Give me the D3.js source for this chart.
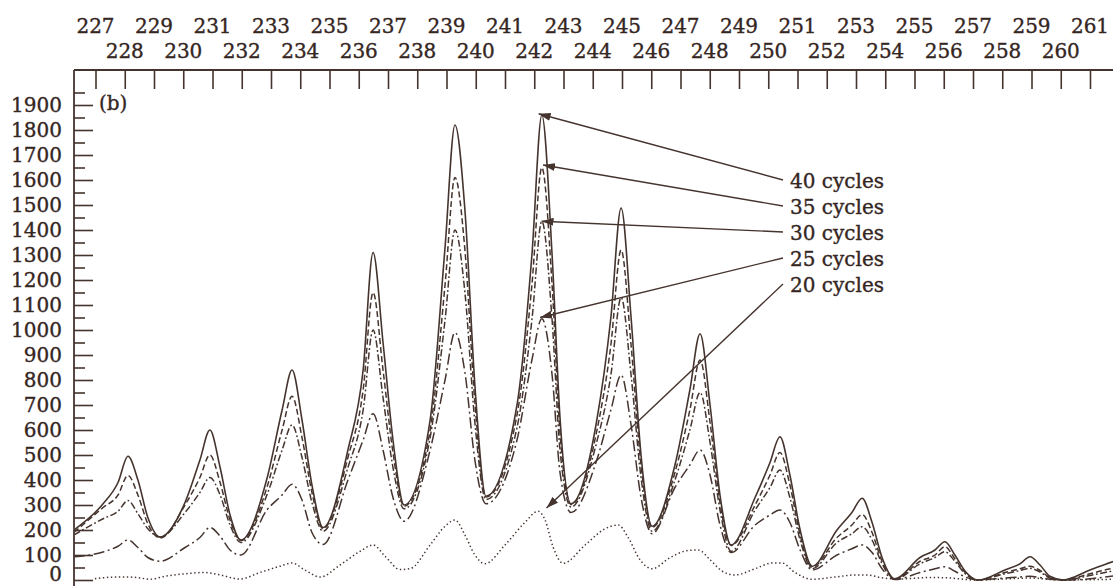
<!DOCTYPE html>
<html>
<head>
<meta charset="utf-8">
<script src="https://cdn.jsdelivr.net/npm/d3@7"></script>
<style>
  html, body { margin: 0; padding: 0; background: #ffffff; }
  svg { display: block; }
  text { font-family: "DejaVu Serif", serif; fill: #35261f; stroke: #35261f; stroke-width: 0.35px; }
</style>
</head>
<body>
<svg id="chart" width="1113" height="586"></svg>
<script>
// m/z knot positions shared by the 40, 35, 30 and 25 cycle traces
const mzKnots = [226.26,
  227.26, 227.77, 228.11, 228.45, 228.79, 229.21,
  230.06, 230.57, 230.91, 231.26, 231.60, 231.97,
  232.86, 233.38, 233.72, 234.06, 234.40, 234.78,
  235.63, 236.15, 236.49, 236.83, 237.17, 237.55,
  238.44, 238.95, 239.29, 239.63, 239.97, 240.35,
  241.41, 241.92, 242.26, 242.61, 242.88, 243.26,
  244.11, 244.62, 244.97, 245.31, 245.65, 246.03,
  246.81, 247.32, 247.67, 248.01, 248.35, 248.73,
  249.55, 250.06, 250.40, 250.74, 251.09, 251.50,
  252.35, 252.86, 253.21, 253.55, 253.89, 254.33,
  255.19, 255.70, 256.04, 256.38, 256.73, 257.17,
  258.09, 258.61, 258.95, 259.29, 259.63, 260.08,
  261.00, 261.51, 261.96];

const cycles40 = [200,
  305, 390, 495, 400, 250, 172,
  310, 480, 600, 450, 260, 160,
  405, 680, 840, 640, 380, 210,
  520, 840, 1310, 950, 560, 300,
  640, 1330, 1820, 1480, 780, 335,
  700, 1300, 1860, 1300, 650, 305,
  620, 1050, 1488, 1050, 500, 215,
  460, 760, 985, 700, 340, 140,
  330, 470, 573, 420, 200, 55,
  200, 270, 327, 230, 90, 5,
  90, 120, 153, 100, 35, 0,
  40, 65, 93, 60, 15, 0,
  40, 62, 80];

const cycles35 = [190,
  290, 340, 418, 340, 225, 168,
  300, 410, 500, 390, 240, 158,
  370, 600, 735, 570, 350, 205,
  490, 760, 1150, 840, 510, 295,
  600, 1180, 1610, 1320, 710, 332,
  660, 1180, 1650, 1180, 590, 302,
  580, 940, 1320, 940, 460, 210,
  430, 680, 880, 630, 310, 138,
  300, 420, 510, 380, 180, 52,
  170, 220, 262, 190, 75, 4,
  75, 100, 133, 85, 30, 0,
  30, 45, 55, 38, 10, 0,
  25, 40, 50];

const cycles30 = [180,
  245, 275, 318, 265, 205, 172,
  270, 350, 410, 340, 220, 150,
  340, 520, 620, 490, 310, 195,
  450, 680, 1000, 730, 450, 285,
  570, 1040, 1400, 1150, 630, 322,
  610, 1040, 1435, 1040, 520, 292,
  540, 820, 1130, 820, 410, 195,
  400, 600, 750, 550, 280, 115,
  280, 370, 440, 330, 160, 45,
  150, 185, 213, 160, 65, 3,
  65, 90, 113, 75, 25, 0,
  25, 38, 47, 32, 8, 0,
  18, 30, 40];

const cycles25 = [93,
  112, 135, 160, 130, 90, 75,
  130, 170, 210, 175, 120, 100,
  280, 340, 383, 320, 190, 142,
  400, 560, 665, 520, 330, 235,
  520, 800, 990, 830, 480, 305,
  560, 880, 1045, 820, 430, 270,
  470, 680, 820, 620, 330, 185,
  370, 460, 520, 420, 220, 110,
  220, 260, 280, 230, 120, 40,
  100, 125, 140, 110, 45, 2,
  30, 45, 53, 35, 12, 0,
  8, 12, 15, 10, 3, 0,
  5, 12, 18];

// the 20 cycle trace is broader and has its own knots
const mzKnots20 = [226.98, 227.50, 228.01, 228.42, 228.86, 229.38, 230.06, 230.74, 231.19, 231.94,
  232.62, 233.30, 233.72, 234.16, 234.68, 235.36, 236.05, 236.49, 236.90, 237.41,
  237.75, 238.44, 238.95, 239.29, 239.63, 239.97, 240.31, 241.00, 241.68, 242.13,
  242.37, 242.65, 242.99, 243.74, 244.42, 244.87, 245.21, 245.62, 246.03, 246.65,
  247.26, 247.61, 248.02, 248.43, 248.86, 249.55, 250.13, 250.47, 250.91, 251.50,
  252.28, 252.97, 253.41, 253.82, 254.50, 255.53, 256.21, 257.07, 258.26, 258.95,
  259.97, 261.79];
const cycles20 = [5, 11, 12, 10, 3, 15, 25, 30, 22, 4,
  30, 55, 68, 40, 12, 60, 115, 140, 95, 42,
  45, 140, 215, 240, 180, 100, 65, 140, 230, 275,
  240, 130, 67, 140, 205, 220, 170, 80, 45, 90,
  118, 120, 80, 35, 20, 45, 68, 68, 30, 3,
  12, 20, 20, 10, 4, 10, 8, 0, 5, 8,
  0, 3];

const seriesLabels = ["40 cycles", "35 cycles", "30 cycles", "25 cycles", "20 cycles"];
const topTickValues = d3.range(227, 262);
const yMajorTicks = d3.range(0, 2000, 100);
const yMinorTicks = d3.range(50, 2000, 100);
// where each label's arrow points (m/z, intensity)
const arrowTipMz = [242.15, 242.30, 242.25, 242.20, 242.42];
const arrowTipValue = [1865, 1660, 1435, 1050, 288];

// ---- layout ----
const W = 1113, H = 586;
const frameLeft = 74, frameTop = 70, frameRight = 1113;
const ink = "#45342e";

const svg = d3.select("#chart");

const x = d3.scaleLinear().domain([227, 261]).range([95.5, 1090]);
const y = d3.scaleLinear().domain([0, 1900]).range([580, 105]);

// frame lines
svg.append("line")
  .attr("x1", frameLeft).attr("x2", frameRight)
  .attr("y1", frameTop).attr("y2", frameTop)
  .attr("stroke", ink).attr("stroke-width", 1.8);
svg.append("line")
  .attr("x1", frameLeft).attr("x2", frameLeft)
  .attr("y1", frameTop).attr("y2", H + 2)
  .attr("stroke", ink).attr("stroke-width", 1.8);

// top axis: inward ticks at every unit, labels staggered on two rows
const topAxis = d3.axisBottom(x).tickValues(topTickValues).tickSize(19).tickSizeOuter(0).tickFormat("");
svg.append("g")
  .attr("transform", `translate(0,${frameTop})`)
  .call(topAxis)
  .call(g => g.select(".domain").remove())
  .call(g => g.selectAll(".tick line").attr("stroke", ink).attr("stroke-width", 1.6));

svg.append("g").selectAll("text")
  .data(topTickValues)
  .join("text")
  .attr("x", d => x(d))
  .attr("y", d => (d % 2 === 1 ? 33 : 58))
  .attr("text-anchor", "middle")
  .attr("font-size", 20)
  .text(d => d);

// left axis: inward major and minor ticks
const leftMajor = d3.axisRight(y).tickValues(yMajorTicks).tickSize(19).tickSizeOuter(0).tickFormat("");
const leftMinor = d3.axisRight(y).tickValues(yMinorTicks).tickSize(11).tickSizeOuter(0).tickFormat("");
[leftMajor, leftMinor].forEach(ax => {
  svg.append("g")
    .attr("transform", `translate(${frameLeft},0)`)
    .call(ax)
    .call(g => g.select(".domain").remove())
    .call(g => g.selectAll(".tick line").attr("stroke", ink).attr("stroke-width", 1.6));
});

// tick labels; the lowest one is nudged up to stay inside the page
svg.append("g").selectAll("text")
  .data(yMajorTicks)
  .join("text")
  .attr("x", 62)
  .attr("y", d => Math.min(y(d) + 7, H - 5))
  .attr("text-anchor", "end")
  .attr("font-size", 20)
  .text(d => d);

svg.append("text")
  .attr("x", 99).attr("y", 110)
  .attr("font-size", 20)
  .text("(b)");

// ---- traces ----
svg.append("clipPath").attr("id", "plotClip")
  .append("rect")
  .attr("x", frameLeft + 1).attr("y", frameTop)
  .attr("width", frameRight - frameLeft).attr("height", H - frameTop + 4);

const line = d3.line()
  .x(d => x(d[0]))
  .y(d => y(d[1]))
  .curve(d3.curveMonotoneX);

const traces = [
  { values: cycles40, knots: mzKnots, dash: null, width: 1.6 },
  { values: cycles35, knots: mzKnots, dash: "6,3", width: 1.5 },
  { values: cycles30, knots: mzKnots, dash: "7,2.5,1.8,2.5", width: 1.5 },
  { values: cycles25, knots: mzKnots, dash: "11,3.5,2,3.5", width: 1.5 },
  { values: cycles20, knots: mzKnots20, dash: "1.4,2.6", width: 1.5 }
];

const plot = svg.append("g").attr("clip-path", "url(#plotClip)");
traces.forEach(t => {
  plot.append("path")
    .datum(d3.zip(t.knots, t.values))
    .attr("d", line)
    .attr("fill", "none")
    .attr("stroke", ink)
    .attr("stroke-width", t.width)
    .attr("stroke-linejoin", "round")
    .attr("stroke-dasharray", t.dash);
});

// ---- labels with arrows ----
const defs = svg.append("defs");
defs.append("marker")
  .attr("id", "arrowHead")
  .attr("viewBox", "0 0 12 8")
  .attr("refX", 12).attr("refY", 4)
  .attr("markerWidth", 12).attr("markerHeight", 8)
  .attr("markerUnits", "userSpaceOnUse")
  .attr("orient", "auto")
  .append("path")
  .attr("d", "M0,0 L12,4 L0,8 Z")
  .attr("fill", ink);

const labelX = 790;
const labelBaselines = [188, 214, 240, 266, 292];

const ann = svg.append("g");
seriesLabels.forEach((lab, i) => {
  const by = labelBaselines[i];
  ann.append("line")
    .attr("x1", labelX - 7).attr("y1", by - 8)
    .attr("x2", x(arrowTipMz[i])).attr("y2", y(arrowTipValue[i]))
    .attr("stroke", ink).attr("stroke-width", 1.4)
    .attr("marker-end", "url(#arrowHead)");
  ann.append("text")
    .attr("x", labelX).attr("y", by)
    .attr("font-size", 20)
    .text(lab);
});
</script>
</body>
</html>
